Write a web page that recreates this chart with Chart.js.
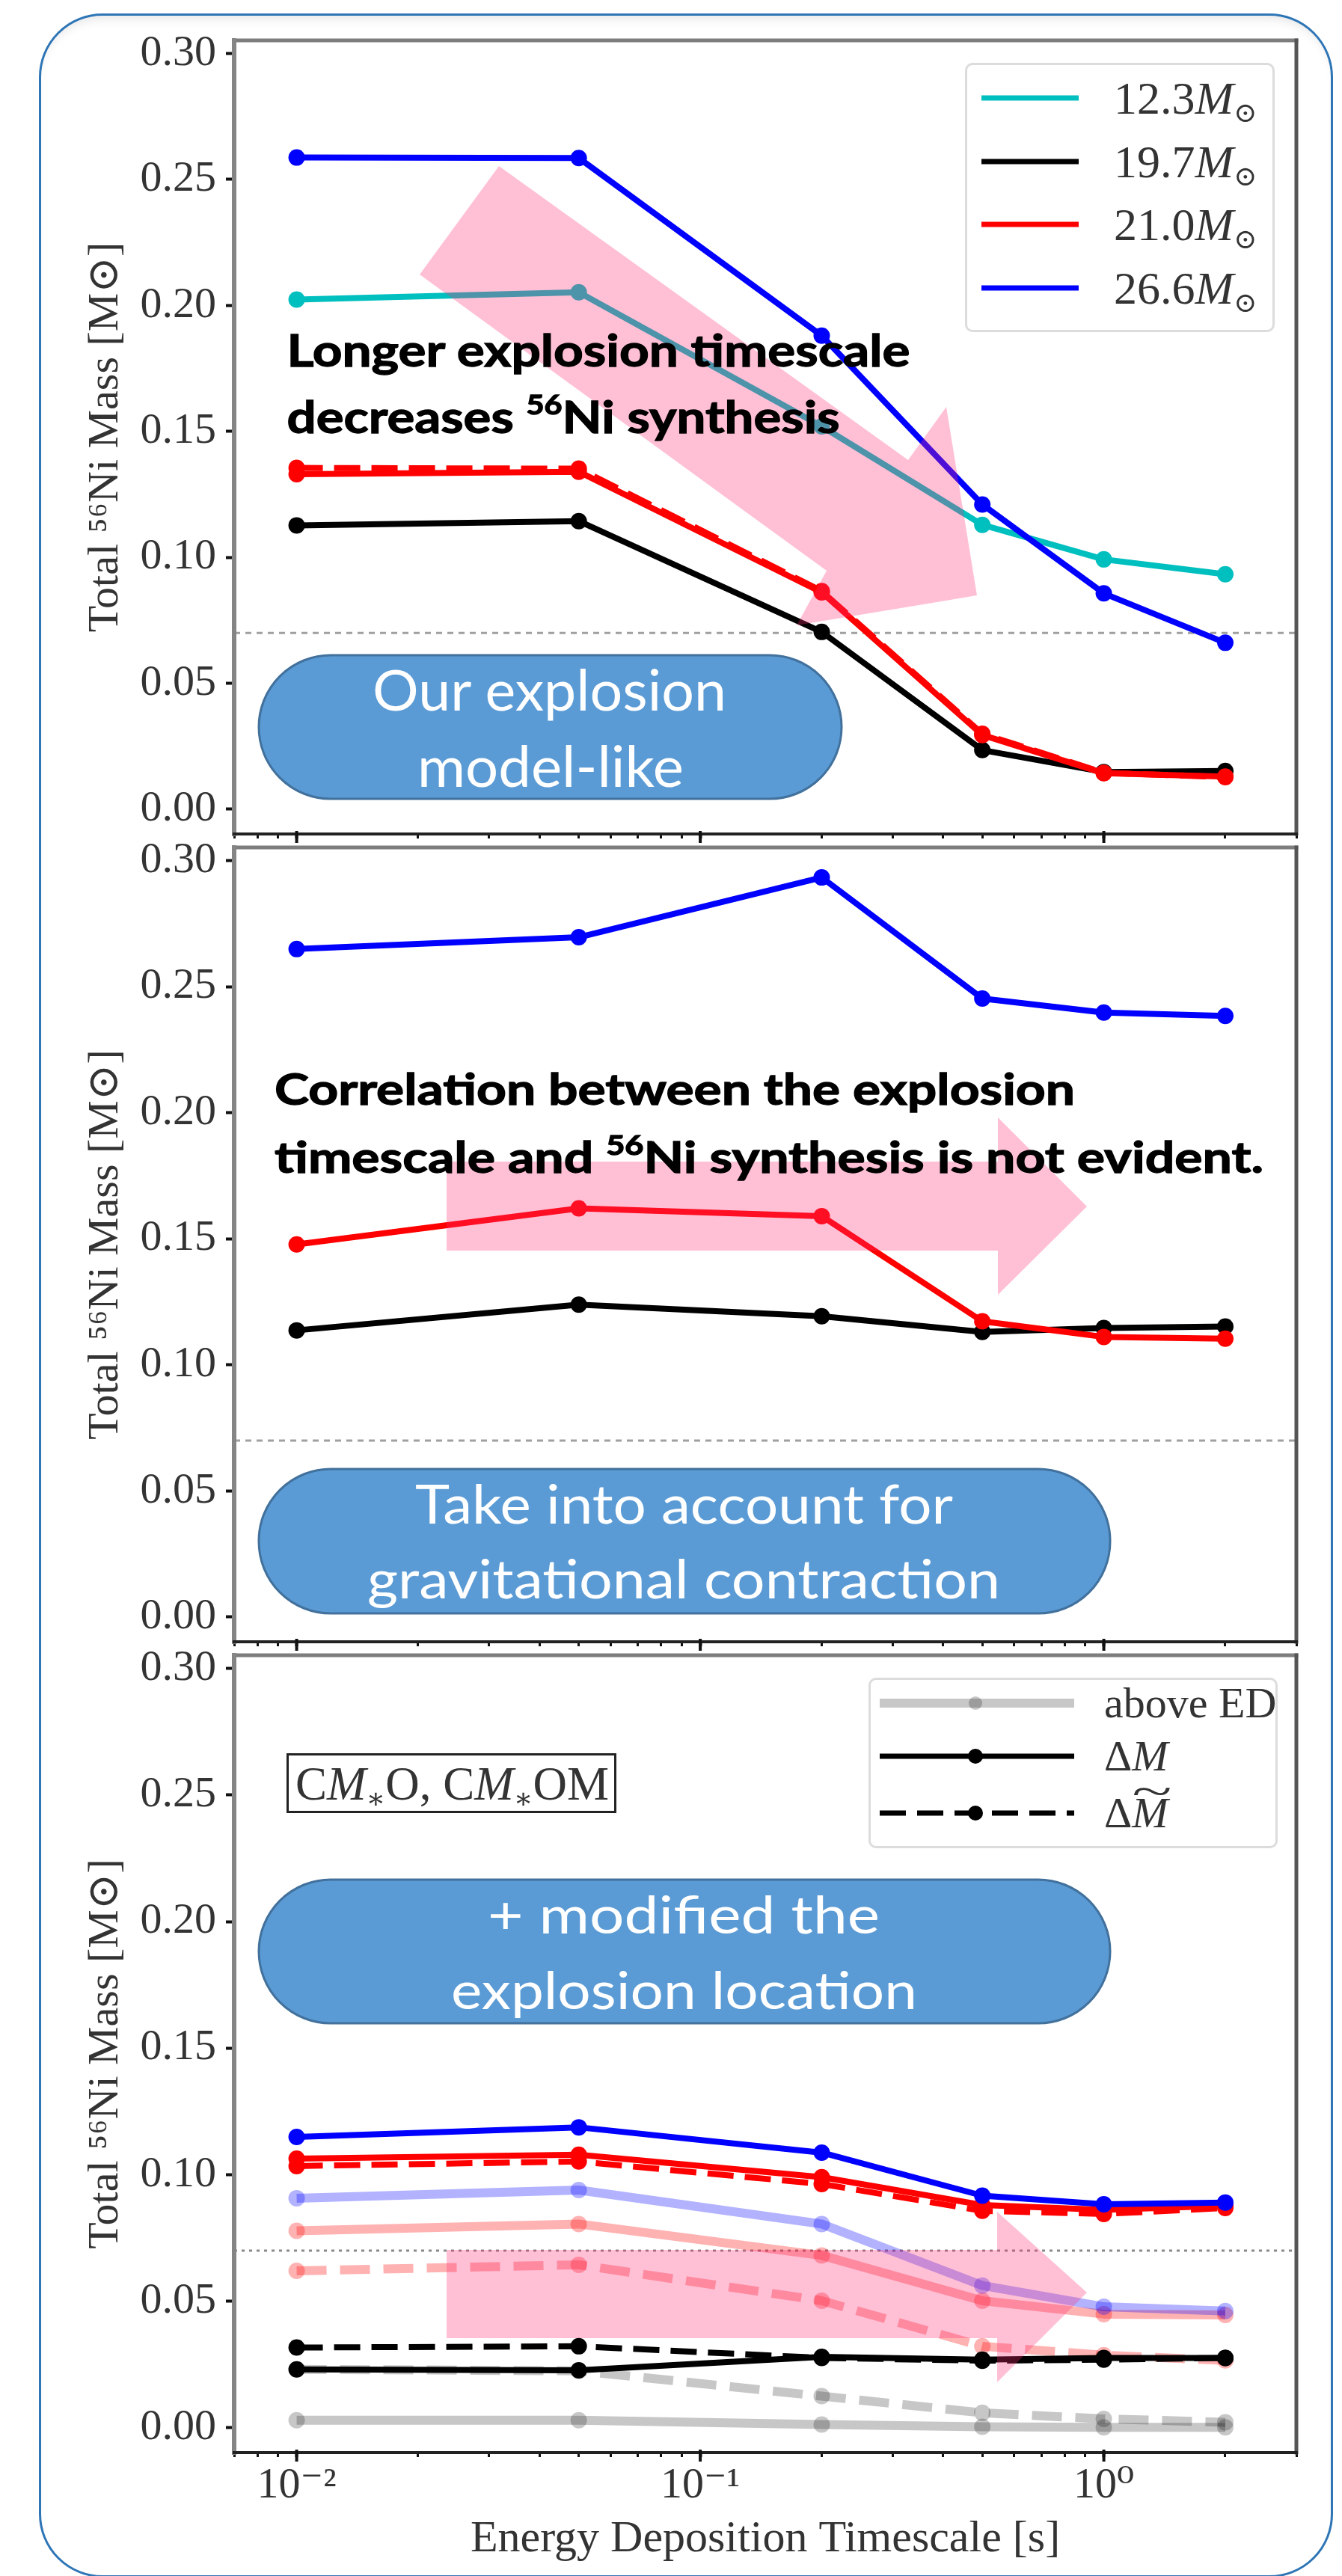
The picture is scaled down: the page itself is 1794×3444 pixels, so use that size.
<!DOCTYPE html>
<html>
<head>
<meta charset="utf-8">
<title>Total 56Ni mass vs energy deposition timescale</title>
<script src="https://cdn.jsdelivr.net/npm/chart.js@4.4.1/dist/chart.umd.min.js"></script>
<style>
  html, body { margin: 0; padding: 0; background: #fff; }
  #page { position: relative; width: 1794px; height: 3444px; overflow: hidden; background: #fff; }
  #frame { position: absolute; left: 52px; top: 18px; width: 1730px; height: 3428px; box-sizing: border-box;
           border: 3px solid #2e75b6; border-radius: 85px; box-shadow: inset 0 12px 14px -8px rgba(0,0,0,0.10); }
  canvas { position: absolute; left: 0; }
  #notes { position: absolute; left: 0; top: 0; }
  .legend { position: absolute; box-sizing: border-box; background: rgba(255,255,255,0.85);
            border: 3px solid #dcdcdc; border-radius: 10px; }
  .row { position: absolute; left: 0; right: 0; height: 0; }
  .row svg { position: absolute; top: -20px; overflow: visible; }
  .lab { position: absolute; top: 0; font-family: 'Liberation Serif', 'DejaVu Serif', serif; color: #333;
         white-space: nowrap; line-height: 1; transform: translateY(-50%); }
  .tl { position: relative; display: inline-block; }
  .tl b { position: absolute; left: 0.08em; right: 0; top: -0.5em; text-align: center; font-weight: normal;
          font-style: normal; transform: scaleX(1.7); }
  sub { font-size: 0.6em; vertical-align: -0.3em; line-height: 0; }
  #cmbox { position: absolute; left: 383px; top: 2344px; width: 441px; height: 80px; box-sizing: border-box;
           border: 3px solid #222; background: #fff; }
</style>
</head>
<body>
<div id="page">
  <div id="frame"></div>
</div>
<script>
const SERIF = "'Liberation Serif', 'DejaVu Serif', serif";
const INK = '#333333';

// x: energy deposition timescale [s]
const timescales = [0.01, 0.05, 0.2, 0.5, 1, 2];
const xMin = 0.007, xMax = 3;
const yMin = -0.0098, yMax = 0.3052;
const yTicks = [0, 0.05, 0.10, 0.15, 0.20, 0.25, 0.30];
const xMajorTicks = [0.01, 0.1, 1];
const xMajorLabels = ['10⁻²', '10⁻¹', '10⁰'];
const xMinorTicks = [0.007, 0.008, 0.009, 0.02, 0.03, 0.04, 0.05, 0.06, 0.07, 0.08, 0.09,
                     0.2, 0.3, 0.4, 0.5, 0.6, 0.7, 0.8, 0.9, 2, 3];
const ejectaLimit = 0.07;

const massLabels = ['12.3', '19.7', '21.0', '26.6'];
const massColors = ['#00bfbf', '#000000', '#ff0000', '#0000ff'];
const fadedColors = ['rgba(0,191,191,0.3)', 'rgba(0,0,0,0.22)', 'rgba(255,0,0,0.3)', 'rgba(0,0,255,0.3)'];
const variantLabels = ['above ED', 'ΔM', 'ΔM~'];

// panel 1: our explosion model-like
const p1Mass123 = [0.2023, 0.2052, 0.1520, 0.1129, 0.0992, 0.0933];
const p1Mass197 = [0.1127, 0.1144, 0.0704, 0.0235, 0.0148, 0.0152];
const p1Mass210 = [0.1330, 0.1340, 0.0861, 0.0295, 0.0143, 0.0130];
const p1Mass210Alt = [0.1355, 0.1352, 0.0866, 0.0300, 0.0145, 0.0128];
const p1Mass266 = [0.2587, 0.2585, 0.1880, 0.1210, 0.0857, 0.0661];

// panel 2: with gravitational contraction
const p2Mass197 = [0.1137, 0.1239, 0.1193, 0.1131, 0.1146, 0.1152];
const p2Mass210 = [0.1478, 0.1621, 0.1590, 0.1173, 0.1111, 0.1104];
const p2Mass266 = [0.2649, 0.2696, 0.2933, 0.2453, 0.2397, 0.2384];

// panel 3: modified explosion location (dM solid, dM~ dashed, above ED faded)
const p3Mass197 = [0.0231, 0.0227, 0.0280, 0.0269, 0.0276, 0.0276];
const p3Mass197Tilde = [0.0317, 0.0322, 0.0276, 0.0265, 0.0269, 0.0276];
const p3Mass210 = [0.1063, 0.1079, 0.0990, 0.0880, 0.0861, 0.0877];
const p3Mass210Tilde = [0.1034, 0.1052, 0.0963, 0.0857, 0.0845, 0.0868];
const p3Mass266 = [0.1149, 0.1187, 0.1087, 0.0917, 0.0883, 0.0890];
const p3Above197 = [0.0030, 0.0030, 0.0013, 0.0004, 0.0002, 0.0002];
const p3Above197Tilde = [0.0231, 0.0225, 0.0125, 0.0059, 0.0035, 0.0022];
const p3Above210 = [0.0778, 0.0805, 0.0681, 0.0502, 0.0449, 0.0446];
const p3Above210Tilde = [0.0620, 0.0644, 0.0502, 0.0322, 0.0287, 0.0266];
const p3Above266 = [0.0907, 0.0939, 0.0805, 0.0562, 0.0478, 0.0461];

const page = document.getElementById('page');

function series(values, color, extra) {
  return Object.assign({
    data: timescales.map((t, i) => ({ x: t, y: values[i] })),
    borderColor: color, backgroundColor: color,
    pointBackgroundColor: color, pointBorderWidth: 0,
    pointRadius: 11, pointHoverRadius: 11,
    borderWidth: 8, borderJoinStyle: 'round', tension: 0, fill: false
  }, extra || {});
}
const dashed = { borderDash: [35, 15] };
const faded = { borderWidth: 12, pointRadius: 11, pointHoverRadius: 11 };
const fadedDashed = { borderWidth: 12, pointRadius: 11, pointHoverRadius: 11, borderDash: [40, 18] };

function limitLine(color, dash) {
  return {
    data: [{ x: xMin, y: ejectaLimit }, { x: xMax, y: ejectaLimit }],
    borderColor: color, borderWidth: 3, borderDash: dash, pointRadius: 0, order: 999
  };
}

const axesFrame = {
  id: 'axesFrame',
  afterDraw(chart) {
    const { ctx, chartArea: a } = chart;
    const xs = chart.scales.x;
    const side = (x1, y1, x2, y2, color, w) => {
      ctx.beginPath(); ctx.strokeStyle = color; ctx.lineWidth = w;
      ctx.moveTo(x1, y1); ctx.lineTo(x2, y2); ctx.stroke();
    };
    ctx.save();
    ctx.lineCap = 'square';
    side(a.left, a.top, a.right, a.top, '#7d7d7d', 5);
    side(a.right, a.top, a.right, a.bottom, '#555555', 5);
    side(a.left, a.top, a.left, a.bottom, '#858585', 6);
    side(a.left, a.bottom, a.right, a.bottom, '#222222', 4);
    ctx.lineCap = 'butt';
    xMajorTicks.forEach(v => {
      const px = xs.getPixelForValue(v);
      side(px, a.bottom - 4, px, a.bottom + 12, '#111111', 4);
    });
    ctx.restore();
  }
};

function makePanel(top, height, padBottom, xBoxHeight, withXLabels, datasets) {
  const canvas = document.createElement('canvas');
  canvas.width = 1794; canvas.height = height;
  canvas.style.top = top + 'px';
  page.appendChild(canvas);
  const n = datasets.length;
  datasets.forEach((d, i) => { if (d.order === undefined) d.order = n - i; });
  return new Chart(canvas, {
    type: 'line',
    data: { datasets },
    plugins: [axesFrame],
    options: {
      responsive: false, animation: false, devicePixelRatio: 1,
      layout: { padding: { left: 108, right: 61, top: 54, bottom: padBottom } },
      plugins: { legend: { display: false }, tooltip: { enabled: false } },
      scales: {
        x: {
          type: 'logarithmic', min: xMin, max: xMax,
          afterBuildTicks: s => { s.ticks = xMinorTicks.concat(xMajorTicks).sort((a, b) => a - b).map(v => ({ value: v })); },
          afterFit: s => { s.height = xBoxHeight; s.paddingLeft = 0; s.paddingRight = 0; },
          ticks: {
            display: withXLabels, autoSkip: false, maxRotation: 0, minRotation: 0, padding: 4,
            color: INK, font: { family: SERIF, size: 58 },
            callback: v => { const i = xMajorTicks.indexOf(v); return i < 0 ? '' : xMajorLabels[i]; }
          },
          grid: {
            drawOnChartArea: false, tickLength: 6, tickColor: '#111',
            tickWidth: c => (c.tick && xMajorTicks.includes(c.tick.value)) ? 4 : 3
          },
          border: { display: false },
          title: {
            display: withXLabels, text: 'Energy Deposition Timescale [s]', color: INK,
            font: { family: SERIF, size: 60 }, padding: { top: 0, bottom: 3 }
          }
        },
        y: {
          type: 'linear', min: yMin, max: yMax,
          afterBuildTicks: s => { s.ticks = yTicks.map(v => ({ value: v })); },
          afterFit: s => { s.width = 205; s.paddingTop = 0; s.paddingBottom = 0; },
          ticks: { padding: 13, color: INK, font: { family: SERIF, size: 58 }, callback: v => v.toFixed(2) },
          grid: { drawOnChartArea: false, tickLength: 11, tickWidth: 4, tickColor: '#111' },
          border: { display: false },
          title: {
            display: true, text: 'Total ⁵⁶Ni Mass [M⊙]', color: INK,
            font: { family: SERIF, size: 58, lineHeight: 1 }, padding: { top: 5, bottom: 0 }
          }
        }
      }
    }
  });
}

makePanel(0, 1155, 25, 15, false, [
  limitLine('#a0a0a0', [8, 7]),
  series(p1Mass123, massColors[0]),
  series(p1Mass197, massColors[1]),
  series(p1Mass210Alt, massColors[2], dashed),
  series(p1Mass210, massColors[2]),
  series(p1Mass266, massColors[3])
]);

makePanel(1079, 1156, 25, 15, false, [
  limitLine('#a0a0a0', [8, 7]),
  series(p2Mass197, massColors[1]),
  series(p2Mass210, massColors[2]),
  series(p2Mass266, massColors[3])
]);

makePanel(2159, 1285, 10, 155, true, [
  limitLine('#8a8a8a', [4, 6]),
  series(p3Above197, fadedColors[1], faded),
  series(p3Above197Tilde, fadedColors[1], fadedDashed),
  series(p3Above210Tilde, fadedColors[2], fadedDashed),
  series(p3Above210, fadedColors[2], faded),
  series(p3Above266, fadedColors[3], faded),
  series(p3Mass197Tilde, massColors[1], dashed),
  series(p3Mass197, massColors[1]),
  series(p3Mass210Tilde, massColors[2], dashed),
  series(p3Mass210, massColors[2]),
  series(p3Mass266, massColors[3])
]);

// legends
function mathLabel(s) {
  if (s.endsWith('M~')) return s.slice(0, -2) + '<span class="tl"><i>M</i><b>~</b></span>';
  return s.replace('M', '<i>M</i>');
}

const massLegend = document.createElement('div');
massLegend.className = 'legend';
Object.assign(massLegend.style, { left: '1290px', top: '84px', width: '414px', height: '360px' });
massLabels.forEach((lab, i) => {
  const row = document.createElement('div');
  row.className = 'row';
  row.style.top = (44 + i * 84.5) + 'px';
  row.innerHTML = `<svg width="130" height="40" style="left:19px"><line x1="0" y1="20" x2="130" y2="20" stroke="${massColors[i]}" stroke-width="7"/></svg>` +
                  `<span class="lab" style="left:196px;font-size:62px">${lab}<i>M</i><sub>⊙</sub></span>`;
  massLegend.appendChild(row);
});

const variantLegend = document.createElement('div');
variantLegend.className = 'legend';
Object.assign(variantLegend.style, { left: '1161px', top: '2243px', width: '547px', height: '228px' });
const variantStyles = [
  { color: 'rgba(0,0,0,0.22)', width: 12, dash: '', r: 9 },
  { color: '#000', width: 7, dash: '', r: 10 },
  { color: '#000', width: 7, dash: '35 15', r: 10 }
];
const variantRows = [31, 102, 178];
variantLabels.forEach((lab, i) => {
  const st = variantStyles[i];
  const row = document.createElement('div');
  row.className = 'row';
  row.style.top = variantRows[i] + 'px';
  row.innerHTML = `<svg width="260" height="40" style="left:12px"><line x1="0" y1="20" x2="260" y2="20" stroke="${st.color}" stroke-width="${st.width}" stroke-dasharray="${st.dash}"/>` +
                  `<circle cx="128" cy="20" r="${st.r}" fill="${st.color}"/></svg>` +
                  `<span class="lab" style="left:312px;font-size:58px">${mathLabel(lab)}</span>`;
  variantLegend.appendChild(row);
});

const cm = document.createElement('div');
cm.id = 'cmbox';
cm.innerHTML = '<span class="lab" style="left:9px;top:38px;font-size:63px">C<i>M</i><sub>∗</sub>O, C<i>M</i><sub>∗</sub>OM</span>';

// slide annotations drawn over the figure
const SVGNS = 'http://www.w3.org/2000/svg';
const notes = document.createElementNS(SVGNS, 'svg');
notes.setAttribute('id', 'notes');
notes.setAttribute('width', '1794');
notes.setAttribute('height', '3444');
notes.innerHTML = `
  <g fill="rgba(255,45,118,0.3)">
    <polygon points="561,367 667,222 1214,615 1265,544 1306,796 1065,836 1105,763"/>
    <polygon points="597,1553 1334,1553 1334,1494 1453,1613 1334,1731 1334,1672 597,1672"/>
    <polygon points="597,3008 1333,3008 1333,2957 1453,3065 1333,3185 1333,3126 597,3126"/>
  </g>
  <g font-family="Lato, 'Open Sans', sans-serif" font-weight="700" fill="#000" stroke="#000" stroke-width="1.3">
    <text x="383.5" y="490" font-size="60" textLength="833" lengthAdjust="spacingAndGlyphs">Longer explosion timescale</text>
    <text x="383.5" y="579" font-size="60" textLength="739" lengthAdjust="spacingAndGlyphs">decreases <tspan font-size="36" dy="-25">56</tspan><tspan dy="25">Ni synthesis</tspan></text>
    <text x="367" y="1477" font-size="58" textLength="1070" lengthAdjust="spacingAndGlyphs">Correlation between the explosion</text>
    <text x="367" y="1568" font-size="58" textLength="1322" lengthAdjust="spacingAndGlyphs">timescale and <tspan font-size="36" dy="-24">56</tspan><tspan dy="24">Ni synthesis is not evident.</tspan></text>
  </g>
  <g fill="#5b9bd5" stroke="#41719c" stroke-width="3">
    <rect x="346" y="876" width="779" height="192" rx="96"/>
    <rect x="346" y="1964" width="1138" height="193" rx="96"/>
    <rect x="346" y="2513" width="1138" height="192" rx="96"/>
  </g>
  <g font-family="Lato, 'Open Sans', sans-serif" fill="#fff" style="white-space:pre">
    <text x="498" y="950" font-size="75" textLength="473" lengthAdjust="spacingAndGlyphs">Our explosion</text>
    <text x="558" y="1052" font-size="75" textLength="356" lengthAdjust="spacingAndGlyphs">model-like</text>
    <text x="555" y="2037" font-size="72" textLength="719" lengthAdjust="spacingAndGlyphs">Take into account for</text>
    <text x="491" y="2137" font-size="72" textLength="846" lengthAdjust="spacingAndGlyphs">gravitational contraction</text>
    <text x="652" y="2585" font-size="70" textLength="524" lengthAdjust="spacingAndGlyphs">+  modified the</text>
    <text x="603" y="2686" font-size="70" textLength="623" lengthAdjust="spacingAndGlyphs">explosion location</text>
  </g>`;
page.appendChild(notes);
page.appendChild(massLegend);
page.appendChild(variantLegend);
page.appendChild(cm);
</script>
</body>
</html>
